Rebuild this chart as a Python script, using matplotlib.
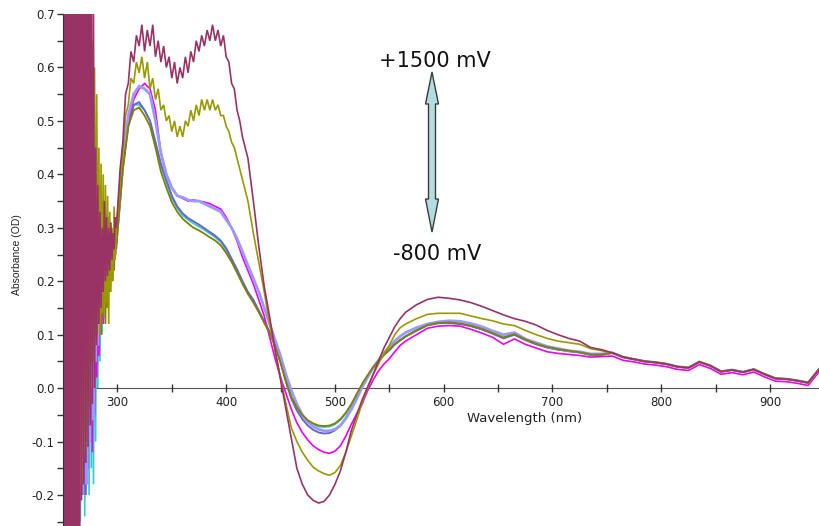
import numpy as np
import matplotlib
matplotlib.use("Agg")
import matplotlib.pyplot as plt
from matplotlib.patches import Polygon
from matplotlib.ticker import FixedLocator, FormatStrFormatter

plt.rcParams['axes.unicode_minus'] = False
plt.rcParams['font.family'] = ['DejaVu Sans']

# Sampling grids (nm): 1 nm in the noisy UV edge, 5 nm (2.5 nm for the
# two oxidised spectra in the Soret/Q region), 10 nm in the red tail
wl_uv = np.arange(250, 300, 1)
wl_band = np.arange(300, 561, 5)
wl_band_fine = np.arange(300, 420.1, 2.5)
wl_band_rest = np.arange(425, 561, 5)
wl_red = np.arange(565, 946, 10)
wavelength = np.concatenate([wl_uv, wl_band, wl_red])
wavelength_fine = np.concatenate([wl_uv, wl_band_fine, wl_band_rest, wl_red])

# ---- +1500 mV (maroon) ----
maroon_uv = [0.95, -0.30, 1.0, -0.28, 0.9, -0.32, 0.85, -0.3, 1.1, -0.27,
             0.9, -0.3, 0.8, -0.29, 0.95, -0.26, 0.88, -0.21, 0.92, -0.18,
             0.85, -0.14, 0.9, -0.11, 0.8, -0.07, 0.78, -0.03, 0.72, 0.0,
             0.45, 0.08, 0.38, 0.12, 0.33, 0.15, 0.3, 0.18, 0.35, 0.2,
             0.32, 0.21, 0.3, 0.22, 0.31, 0.24, 0.29, 0.26, 0.32, 0.3]
maroon_band = [0.33, 0.41, 0.46, 0.55, 0.57, 0.63, 0.61, 0.66, 0.64, 0.68,
               0.63, 0.67, 0.64, 0.68, 0.62, 0.65, 0.61, 0.64, 0.6, 0.62,
               0.58, 0.61, 0.57, 0.6, 0.58, 0.62, 0.59, 0.63, 0.61, 0.65,
               0.63, 0.66, 0.64, 0.67, 0.65, 0.68, 0.65, 0.67, 0.64, 0.66,
               0.62, 0.61, 0.57, 0.56, 0.52, 0.5, 0.47, 0.45, 0.43,
               0.35, 0.265, 0.19, 0.133, 0.071, 0.015, -0.04, -0.095, -0.15, -0.18,
               -0.2, -0.21, -0.215, -0.212, -0.2, -0.18, -0.155, -0.12, -0.08, -0.05,
               -0.022, 0.002, 0.025, 0.05, 0.075, 0.095, 0.115, 0.13]
maroon_red = [0.142, 0.156, 0.166, 0.17, 0.168, 0.165, 0.16, 0.153, 0.145, 0.137,
              0.13, 0.125, 0.118, 0.108, 0.1, 0.093, 0.088, 0.076, 0.072]

# ---- olive ----
olive_uv = [-0.3, 0.9, -0.2, 0.85, -0.28, 0.95, -0.15, 0.8, -0.25, 0.9,
            -0.1, 0.85, -0.22, 0.75, -0.05, 0.9, -0.18, 0.8, 0.0, 0.78,
            -0.12, 0.74, 0.05, 0.8, -0.02, 0.72, 0.1, 0.65, 0.05, 0.6,
            0.12, 0.55, 0.15, 0.45, 0.1, 0.42, 0.14, 0.4, 0.13, 0.38,
            0.16, 0.36, 0.12, 0.33, 0.18, 0.3, 0.2, 0.34, 0.24, 0.3]
olive_band = [0.32, 0.39, 0.44, 0.51, 0.53, 0.58, 0.57, 0.61, 0.59, 0.62,
              0.58, 0.61, 0.56, 0.58, 0.54, 0.56, 0.52, 0.53, 0.5, 0.51,
              0.48, 0.5, 0.47, 0.49, 0.47, 0.5, 0.49, 0.52, 0.5, 0.53,
              0.51, 0.54, 0.52, 0.54, 0.52, 0.54, 0.52, 0.53, 0.51, 0.51,
              0.49, 0.48, 0.46, 0.45, 0.43, 0.41, 0.39, 0.37, 0.35,
              0.29, 0.235, 0.18, 0.12, 0.07, 0.02, -0.03, -0.075, -0.1, -0.12,
              -0.135, -0.148, -0.155, -0.16, -0.163, -0.158, -0.145, -0.12, -0.09, -0.06,
              -0.028, 0.0, 0.025, 0.045, 0.065, 0.08, 0.1, 0.113]
olive_red = [0.12, 0.13, 0.138, 0.14, 0.14, 0.14, 0.135, 0.13, 0.126, 0.12,
             0.117, 0.108, 0.1, 0.093, 0.088, 0.085, 0.082, 0.074, 0.07]

# ---- magenta ----
magenta_uv = [0.8, -0.25, 0.9, -0.3, 0.7, -0.2, 0.95, -0.27, 0.8, -0.15,
              0.9, -0.3, 0.75, -0.1, 0.85, -0.22, 0.9, -0.05, 0.7, -0.2,
              0.8, -0.06, 0.72, -0.15, 0.6, 0.0, 0.75, -0.12, 0.5, -0.05,
              0.4, 0.02, 0.35, 0.06, 0.3, 0.1, 0.32, 0.12, 0.28, 0.15,
              0.3, 0.17, 0.27, 0.2, 0.3, 0.22, 0.28, 0.25, 0.3, 0.27]
magenta_band = [0.3, 0.42, 0.5, 0.54, 0.56, 0.57, 0.56, 0.52, 0.44, 0.4,
                0.375, 0.36, 0.355, 0.35, 0.352, 0.35, 0.348, 0.345, 0.34, 0.335,
                0.32, 0.3, 0.275, 0.245, 0.22, 0.195, 0.165, 0.135, 0.095, 0.055,
                0.02, -0.01, -0.04, -0.065, -0.083, -0.097, -0.108, -0.115, -0.12, -0.122,
                -0.118, -0.108, -0.09, -0.068, -0.048, -0.03, -0.005, 0.015, 0.032, 0.045,
                0.055, 0.068, 0.08]
magenta_red = [0.088, 0.1, 0.112, 0.116, 0.117, 0.116, 0.11, 0.103, 0.095, 0.082,
               0.092, 0.082, 0.075, 0.068, 0.065, 0.063, 0.061, 0.058, 0.059,
               0.06, 0.052, 0.049, 0.045, 0.043, 0.04, 0.035, 0.033, 0.044, 0.037,
               0.026, 0.029, 0.025, 0.03, 0.021, 0.013, 0.012, 0.009, 0.005, 0.03]

# ---- lavender ----
lavender_uv = [-0.2, 0.85, -0.3, 0.9, -0.1, 0.8, -0.25, 0.95, -0.2, 0.7,
               -0.28, 0.88, -0.12, 0.8, -0.25, 0.7, -0.05, 0.85, -0.2, 0.65,
               -0.08, 0.75, -0.18, 0.6, -0.1, 0.55, 0.0, 0.45, -0.06, 0.4,
               0.05, 0.35, 0.08, 0.32, 0.12, 0.3, 0.15, 0.29, 0.16, 0.31,
               0.18, 0.28, 0.2, 0.3, 0.21, 0.28, 0.23, 0.3, 0.25, 0.29]
lavender_band = [0.3, 0.42, 0.51, 0.55, 0.565, 0.56, 0.55, 0.5, 0.44, 0.4,
                 0.375, 0.36, 0.357, 0.352, 0.35, 0.35, 0.345, 0.34, 0.335, 0.33,
                 0.315, 0.3, 0.28, 0.255, 0.23, 0.205, 0.18, 0.15, 0.12, 0.09,
                 0.06, 0.025, -0.005, -0.03, -0.05, -0.063, -0.072, -0.077, -0.08, -0.08,
                 -0.077, -0.07, -0.057, -0.04, -0.02, 0.002, 0.02, 0.038, 0.052, 0.065,
                 0.077, 0.088, 0.097]
lavender_red = [0.104, 0.113, 0.12, 0.124, 0.126, 0.125, 0.121, 0.115, 0.107, 0.1,
                0.104, 0.092, 0.085, 0.078, 0.074, 0.07, 0.068, 0.064, 0.064]

# ---- slate blue ----
slate_uv = [0.9, -0.3, 0.75, -0.18, 0.85, -0.28, 0.7, -0.12, 0.9, -0.25,
            0.8, -0.08, 0.95, -0.2, 0.7, -0.27, 0.8, -0.1, 0.75, -0.15,
            0.6, -0.2, 0.7, -0.05, 0.55, -0.1, 0.5, 0.0, 0.42, 0.02,
            0.38, 0.06, 0.33, 0.1, 0.3, 0.13, 0.28, 0.15, 0.3, 0.17,
            0.27, 0.19, 0.29, 0.2, 0.28, 0.22, 0.29, 0.24, 0.3, 0.27]
slate_band = [0.29, 0.41, 0.49, 0.53, 0.535, 0.52, 0.5, 0.46, 0.42, 0.39,
              0.36, 0.34, 0.327, 0.318, 0.312, 0.306, 0.299, 0.292, 0.285, 0.276,
              0.262, 0.242, 0.222, 0.2, 0.18, 0.165, 0.145, 0.125, 0.105, 0.08,
              0.05, 0.012, -0.02, -0.042, -0.058, -0.07, -0.078, -0.083, -0.085, -0.084,
              -0.079, -0.07, -0.056, -0.038, -0.018, 0.003, 0.021, 0.037, 0.05, 0.062,
              0.071, 0.082, 0.09]
slate_red = [0.097, 0.108, 0.118, 0.122, 0.122, 0.12, 0.116, 0.11, 0.102, 0.093,
             0.1, 0.09, 0.082, 0.076, 0.072, 0.069, 0.067, 0.062, 0.062]

# ---- cyan ----
cyan_uv = [-0.25, 0.7, -0.15, 0.85, -0.3, 0.75, -0.2, 0.9, -0.05, 0.8,
           -0.22, 0.7, -0.28, 0.9, -0.15, 0.8, -0.25, 0.65, -0.1, 0.75,
           -0.24, 0.6, -0.12, 0.55, -0.2, 0.5, -0.15, 0.4, -0.18, 0.3,
           -0.1, 0.28, 0.0, 0.25, 0.05, 0.27, 0.1, 0.26, 0.14, 0.28,
           0.16, 0.27, 0.19, 0.28, 0.2, 0.27, 0.22, 0.29, 0.25, 0.28]
cyan_band = [0.3, 0.42, 0.5, 0.53, 0.53, 0.52, 0.5, 0.46, 0.415, 0.385,
             0.356, 0.337, 0.323, 0.315, 0.308, 0.302, 0.296, 0.289, 0.282, 0.273,
             0.258, 0.24, 0.22, 0.198, 0.178, 0.162, 0.143, 0.123, 0.103, 0.079,
             0.048, 0.012, -0.018, -0.038, -0.052, -0.062, -0.068, -0.072, -0.073, -0.072,
             -0.068, -0.06, -0.048, -0.032, -0.013, 0.006, 0.023, 0.038, 0.05, 0.062,
             0.071, 0.081, 0.089]
cyan_red = [0.096, 0.107, 0.117, 0.121, 0.122, 0.12, 0.116, 0.11, 0.102, 0.094,
            0.1, 0.09, 0.082, 0.076, 0.072, 0.069, 0.066, 0.062, 0.062]

# ---- dark olive ----
darkolive_uv = [0.85, -0.22, 0.95, -0.12, 0.8, -0.26, 0.9, -0.18, 0.7, -0.3,
                0.85, -0.15, 0.8, -0.25, 0.9, -0.12, 0.7, -0.2, 0.82, -0.06,
                0.7, -0.1, 0.6, 0.0, 0.65, -0.04, 0.55, 0.05, 0.5, 0.08,
                0.45, 0.1, 0.4, 0.12, 0.38, 0.1, 0.35, 0.14, 0.33, 0.12,
                0.3, 0.15, 0.32, 0.18, 0.3, 0.2, 0.29, 0.22, 0.3, 0.26]
darkolive_band = [0.29, 0.41, 0.49, 0.52, 0.525, 0.51, 0.49, 0.45, 0.405, 0.375,
                  0.348, 0.33, 0.317, 0.308, 0.3, 0.295, 0.289, 0.282, 0.276, 0.267,
                  0.253, 0.236, 0.216, 0.195, 0.176, 0.16, 0.142, 0.122, 0.103, 0.079,
                  0.047, 0.012, -0.017, -0.036, -0.05, -0.06, -0.066, -0.07, -0.071, -0.07,
                  -0.066, -0.058, -0.046, -0.03, -0.011, 0.008, 0.024, 0.039, 0.051, 0.062,
                  0.072, 0.082, 0.09]
darkolive_red = [0.097, 0.108, 0.118, 0.122, 0.123, 0.121, 0.117, 0.111, 0.103, 0.095,
                 0.101, 0.091, 0.083, 0.077, 0.073, 0.07, 0.067, 0.063, 0.063]

# Near-IR tail (755-945 nm) where the spectra coincide
nir_common = [0.066, 0.058, 0.054, 0.05, 0.048, 0.045, 0.04, 0.038, 0.049, 0.042,
              0.031, 0.034, 0.03, 0.035, 0.026, 0.018, 0.017, 0.014, 0.01, 0.035]

series = [
    (wavelength, cyan_uv + cyan_band + cyan_red + nir_common, '#33cccc', 1.2),
    (wavelength, slate_uv + slate_band + slate_red + nir_common, '#6666cc', 1.4),
    (wavelength, magenta_uv + magenta_band + magenta_red, '#ee00ee', 1.2),
    (wavelength, lavender_uv + lavender_band + lavender_red + nir_common, '#9999ff', 2.0),
    (wavelength, darkolive_uv + darkolive_band + darkolive_red + nir_common, '#808000', 1.3),
    (wavelength_fine, olive_uv + olive_band + olive_red + nir_common, '#999900', 1.2),
    (wavelength_fine, maroon_uv + maroon_band + maroon_red + nir_common, '#993366', 1.2),
]

fig = plt.figure(figsize=(8.19, 5.26), dpi=100)
ax = fig.add_axes([63 / 819, 0, 756 / 819, 512 / 526])
ax.set_xlim(250, 945)
ax.set_ylim(-0.258, 0.7)

for wl, values, color, lw in series:
    ax.plot(wl, values, color=color, lw=lw, solid_joinstyle='miter')

for side in ('top', 'right'):
    ax.spines[side].set_visible(False)
ax.spines['bottom'].set_position(('data', 0))
ax.spines['bottom'].set_color('#555555')
ax.spines['left'].set_color('#333333')
ax.spines['bottom'].set_zorder(0.5)

ax.xaxis.set_major_locator(FixedLocator([300, 400, 500, 600, 700, 800, 900]))
ax.xaxis.set_minor_locator(FixedLocator([350, 450, 550, 650, 750, 850]))
ax.yaxis.set_major_locator(FixedLocator(np.round(np.arange(-0.2, 0.71, 0.1), 2)))
ax.yaxis.set_minor_locator(FixedLocator(np.round(np.arange(-0.25, 0.7, 0.1), 2)))
ax.yaxis.set_major_formatter(FormatStrFormatter('%.1f'))
ax.tick_params(axis='x', which='both', direction='inout', length=6, width=1,
               color='#333333', labelsize=8.5, pad=3, labelcolor='#222222')
ax.tick_params(axis='y', which='both', direction='out', length=4, width=1,
               color='#333333', labelsize=8.5, pad=2, labelcolor='#222222')

ax.set_xlabel('Wavelength (nm)', fontsize=9.5, color='#222222')
ax.xaxis.set_label_coords((525 - 63) / 756, (526 - 412) / 512)
ax.set_ylabel('Absorbance (OD)', fontsize=7.5, family='Liberation Sans', color='#222222')
ax.yaxis.set_label_coords((22 - 63) / 756, (526 - 255) / 512)

# Double-headed potential arrow (pixel layout converted to figure fractions)
W, H = 819.0, 526.0
cx = 432.0
arrow_px = [(cx, 72), (cx + 6.5, 104), (cx + 3.5, 104), (cx + 3.5, 199),
            (cx + 6.5, 199), (cx, 232), (cx - 6.5, 199), (cx - 3.5, 199),
            (cx - 3.5, 104), (cx - 6.5, 104)]
arrow = Polygon([(x / W, 1 - y / H) for x, y in arrow_px], closed=True,
                transform=fig.transFigure, facecolor='#b3dcdc',
                edgecolor='#3a3a3a', lw=1.0)
fig.patches.append(arrow)

fig.text(435 / W, 1 - 61 / H, '+1500 mV', ha='center', va='center', fontsize=15, color='#111111')
fig.text(437 / W, 1 - 254 / H, '-800 mV', ha='center', va='center', fontsize=15, color='#111111')

fig.savefig('out.png', dpi=100)
